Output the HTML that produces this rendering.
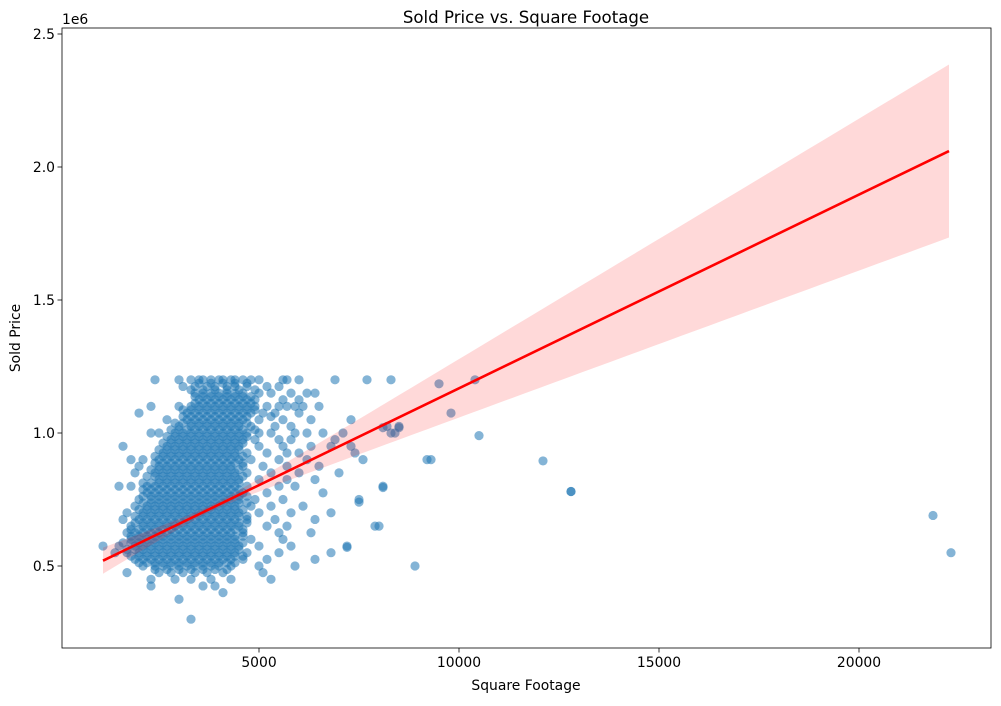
<!DOCTYPE html>
<html><head><meta charset="utf-8"><style>
body{margin:0;background:#fff}
svg text{font-family:"DejaVu Sans","Liberation Sans",sans-serif;fill:#000}
</style></head><body>
<svg id="chart" width="1001" height="701" xmlns="http://www.w3.org/2000/svg">
<rect width="1001" height="701" fill="#fff"/>
<g id="pts"></g>
<g id="reg"></g>
<rect x="62" y="28" width="929" height="620" fill="none" stroke="#000" stroke-width="0.8"/>
<g id="axes"></g>
<text x="526" y="23" font-size="16.6" text-anchor="middle">Sold Price vs. Square Footage</text>
<text x="526" y="690" font-size="13.9" text-anchor="middle">Square Footage</text>
<text x="20" y="338" font-size="13.9" text-anchor="middle" transform="rotate(-90 20 338)">Sold Price</text>
<text x="62" y="24" font-size="13.9">1e6</text>
</svg>
<script>
const xTicks=[5000,10000,15000,20000];
const xTickLabels=["5000","10000","15000","20000"];
const yTicks=[0.5e6,1.0e6,1.5e6,2.0e6,2.5e6];
const yTickLabels=["0.5","1.0","1.5","2.0","2.5"];
// rows: price (k$) -> square footage (hundreds)
const rowPrices=[1200,1175,1150,1125,1100,1075,1050,1025,1000,975,950,925,900,875,850,825,800,775,750,725,700,675,650,625,600,575,550,525,500,475,450,425,400,375,300,
1187,1162,1137,1112,1087,1062,1037,1012,987,962,937,912,887,862,837,812,787,762,737,712,687,662,637,612,587,562,537,512,487];
const rowSqft=[
"24 30 33 35 36 38 40 41 43 44 46 48 50 56 57 60 69 77 83 104",
"31 34 37 39 42 44 47 52 55",
"34 36 38 40 42 44 46 50 53 58 62 64",
"35 37 39 41 43 45 47 49 56 60",
"23 30 33 35 37 39 41 43 45 47 49 52 55 57 59 61 65",
"20 32 34 36 38 40 42 44 46 48 51 54 60",
"27 32 34 36 38 40 42 44 46 50 56 63 73",
"30 33 35 37 39 41 43 45 48 54 58 82 85",
"23 25 29 31 33 35 37 39 41 43 45 47 50 53 59 62 66 71 84",
"28 30 32 34 36 38 40 42 44 46 49 55 58 69",
"16 27 29 31 33 35 37 39 41 43 45 50 56 63 68 73",
"26 28 30 32 34 36 38 40 42 44 47 52 57 60 74",
"18 21 25 27 29 31 33 35 37 39 41 43 45 48 55 62 76 93",
"20 25 27 29 31 33 35 37 39 41 43 46 51 57 65",
"19 24 26 28 30 32 34 36 38 40 42 44 47 53 60 70",
"25 27 29 31 33 35 37 39 41 43 45 50 57 64",
"15 18 22 24 26 28 30 32 34 36 38 40 42 44 47 55 59 81",
"22 24 26 28 30 32 34 36 38 40 42 44 46 52 66",
"20 23 25 27 29 31 33 35 37 39 41 43 45 49 56 75",
"19 22 24 26 28 30 32 34 36 38 40 42 44 48 53 61",
"17 21 23 25 27 29 31 33 35 37 39 41 43 45 50 58 68",
"16 20 22 24 26 28 30 32 34 36 38 40 42 44 47 54 64",
"18 21 23 25 27 29 31 33 35 37 39 41 43 45 52 57 80",
"17 19 21 23 25 27 29 31 33 35 37 39 41 43 46 55 63",
"18 20 22 24 26 28 30 32 34 36 38 40 42 44 48 56",
"11 15 19 21 23 25 27 29 31 33 35 37 39 41 43 45 50 58 72",
"14 17 20 22 24 26 28 30 32 34 36 38 40 42 44 47 55 68 223",
"19 21 23 25 27 29 31 33 35 37 39 41 43 46 52 64",
"21 24 26 28 30 32 34 36 38 40 43 50 59 89",
"17 25 28 31 34 37 41 51",
"23 29 33 38 43 53",
"23 36 39",
"41","30","33",
"35 38 41 44 47",
"33 36 39 42 45 49",
"34 36 38 40 42 44 46 48",
"34 36 38 40 42 44 46 48",
"31 33 35 37 39 41 43 45 47 49",
"31 33 35 37 39 41 43 45 47 53",
"29 31 33 35 37 39 41 43 45 47",
"28 30 32 34 36 38 40 42 44 46 49",
"27 29 31 33 35 37 39 41 43 45 47",
"26 28 30 32 34 36 38 40 42 44 46",
"25 27 29 31 33 35 37 39 41 43 45",
"24 26 28 30 32 34 36 38 40 42 44 46",
"24 26 28 30 32 34 36 38 40 42 44 46",
"23 25 27 29 31 33 35 37 39 41 43 45",
"22 24 26 28 30 32 34 36 38 40 42 44 46",
"21 23 25 27 29 31 33 35 37 39 41 43 45",
"21 23 25 27 29 31 33 35 37 39 41 43 45",
"21 23 25 27 29 31 33 35 37 39 41 43 45 47",
"21 23 25 27 29 31 33 35 37 39 41 43 45 47",
"20 22 24 26 28 30 32 34 36 38 40 42 44 46",
"19 21 23 25 27 29 31 33 35 37 39 41 43 45 47",
"19 21 23 25 27 29 31 33 35 37 39 41 43 45 47",
"18 20 22 24 26 28 30 32 34 36 38 40 42 44 46",
"18 20 22 24 26 28 30 32 34 36 38 40 42 44 46",
"16 18 20 22 24 26 28 30 32 34 36 38 40 42 44 46",
"17 19 21 23 25 27 29 31 33 35 37 39 41 43 45",
"18 20 22 24 26 28 30 32 34 36 38 40 42 44 46",
"20 22 24 26 28 30 32 34 36 38 40 42 44",
"24 27 30 33 36 39 42"];
const outX=[9500,9800,10500,9200,12100,12800,12800,21850,8100,7900,7200,7500,8300,8500,8100];
const outY=[1185,1075,990,900,895,780,780,690,795,650,570,740,1000,1020,1020];
const regX=[1100,22250];
const regY=[0.52e6,2.06e6];
const bandMeanX=3800, bandA=0.012e6, bandB=0.325e6/18450;

const X=v=>59+v*0.04, Y=v=>566-(v-0.5e6)*266/1e6;
const NS="http://www.w3.org/2000/svg";
function mk(t,a,p){const e=document.createElementNS(NS,t);for(const k in a)e.setAttribute(k,a[k]);p.appendChild(e);return e;}
const pts=document.getElementById('pts');
function dot(x,y){const c=mk('circle',{cx:X(x),cy:Y(y),r:4.6,fill:'#1f77b4','fill-opacity':0.55},pts);

}
rowPrices.forEach((p,i)=>{rowSqft[i].split(' ').forEach(s=>dot(+s*100,p*1000));});
outX.forEach((x,i)=>dot(x,outY[i]*1000));
const reg=document.getElementById('reg');
const slope=(regY[1]-regY[0])/(regX[1]-regX[0]);
const f=x=>regY[0]+slope*(x-regX[0]);
const h=x=>Math.sqrt(bandA*bandA+bandB*bandB*(x-bandMeanX)*(x-bandMeanX));
let up=[],lo=[];
for(let k=0;k<=60;k++){const x=regX[0]+(regX[1]-regX[0])*k/60;up.push(X(x)+','+Y(f(x)+h(x)));lo.unshift(X(x)+','+Y(f(x)-h(x)));}
const band=mk('polygon',{points:up.concat(lo).join(' '),fill:'#ff0000','fill-opacity':0.15},reg);


const ln=mk('line',{x1:X(regX[0]),y1:Y(regY[0]),x2:X(regX[1]),y2:Y(regY[1]),stroke:'#ff0000','stroke-width':2.6},reg);


const ax=document.getElementById('axes');
xTicks.forEach((t,i)=>{const x=X(t);mk('line',{x1:x,y1:648,x2:x,y2:652.5,stroke:'#000','stroke-width':0.8},ax);
const tx=mk('text',{x:x,y:667,'font-size':13.9,'text-anchor':'middle'},ax);tx.textContent=xTickLabels[i];

});
yTicks.forEach((t,i)=>{const y=Y(t);mk('line',{x1:57.5,y1:y,x2:62,y2:y,stroke:'#000','stroke-width':0.8},ax);
const tx=mk('text',{x:55,y:y+5,'font-size':13.9,'text-anchor':'end'},ax);tx.textContent=yTickLabels[i];

});
</script>
</body></html>
